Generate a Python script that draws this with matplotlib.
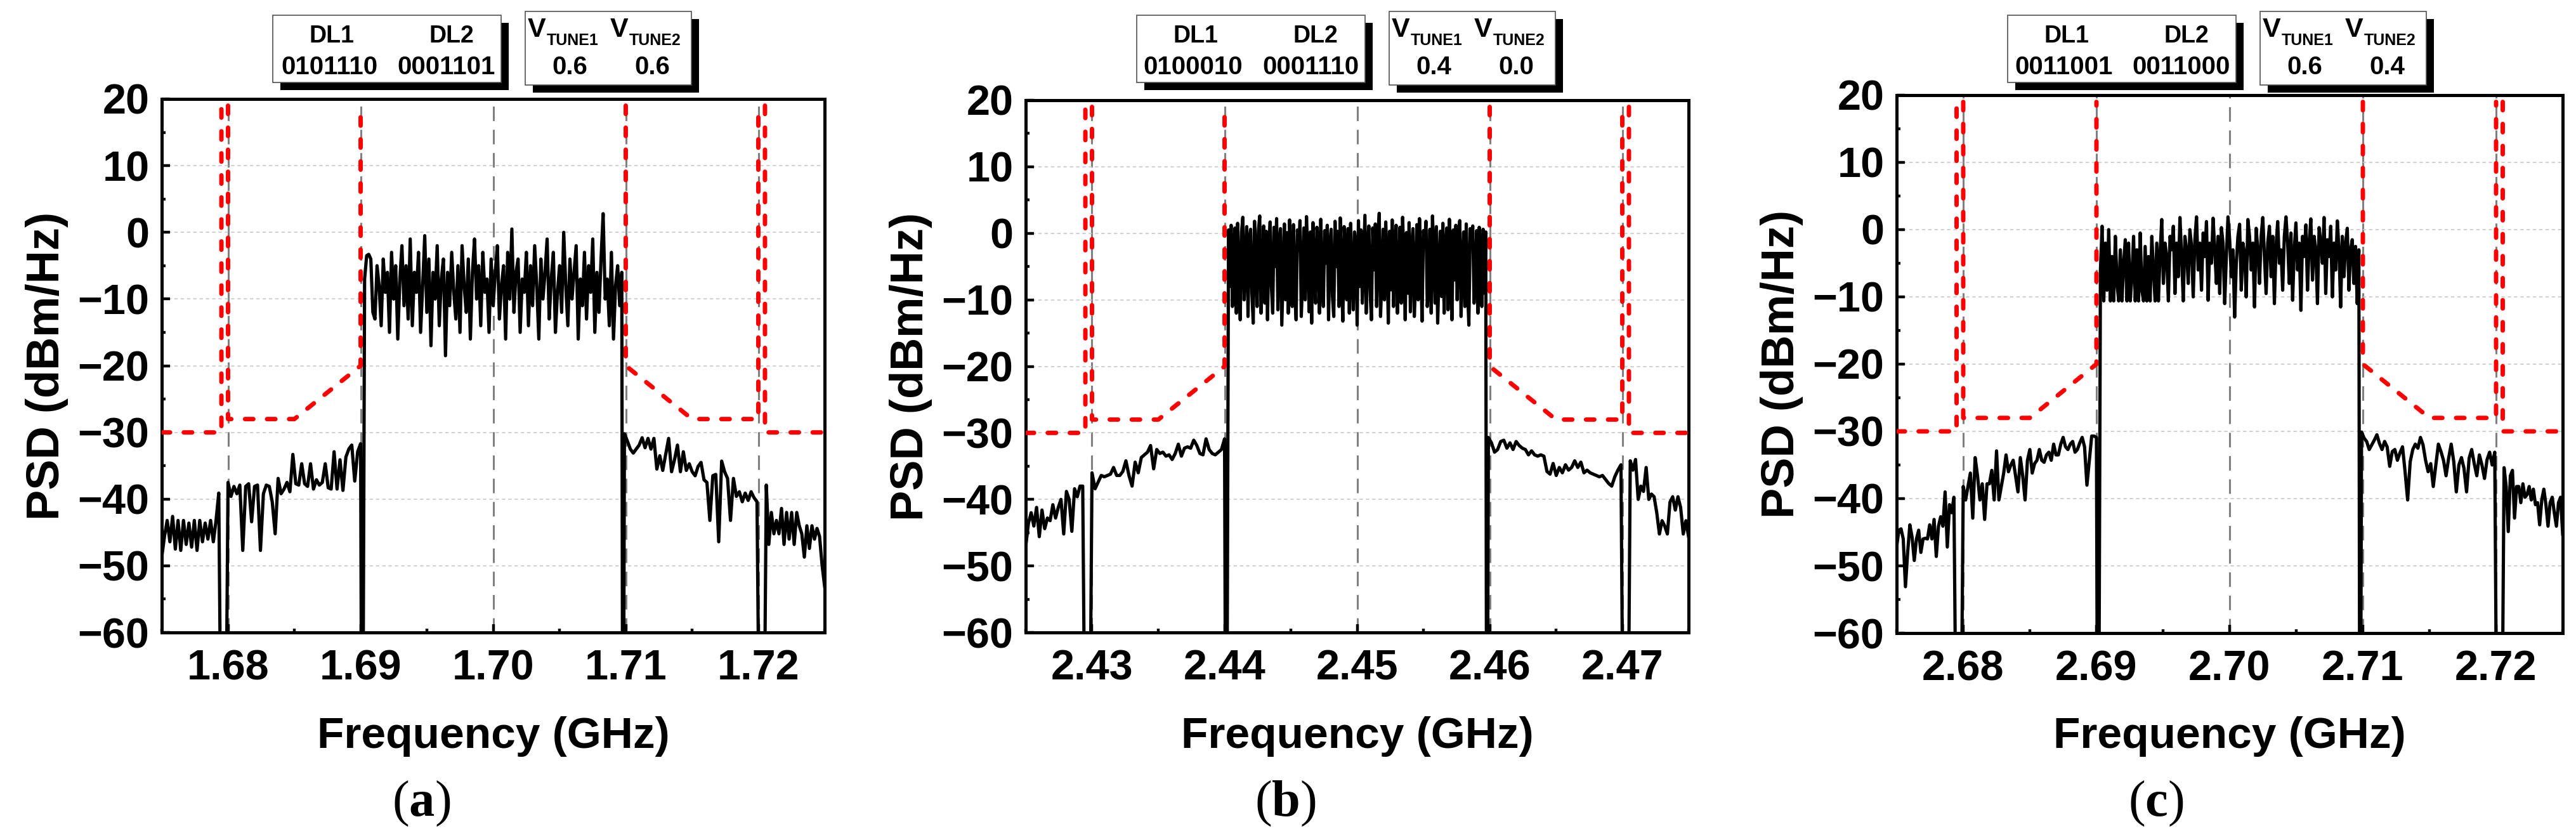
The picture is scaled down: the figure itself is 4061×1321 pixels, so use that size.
import numpy as np
import matplotlib
matplotlib.use('Agg')
import matplotlib.pyplot as plt
from matplotlib.patches import Rectangle
from matplotlib.ticker import MultipleLocator, FormatStrFormatter

W, H = 4061, 1321

# channel centres (GHz) and panel settings
centers = [1.70, 2.45, 2.70]
panel_tags = ['a', 'b', 'c']
dl1_codes = ['0101110', '0100010', '0011001']
dl2_codes = ['0001101', '0001110', '0011000']
vtune1_vals = ['0.6', '0.4', '0.6']
vtune2_vals = ['0.6', '0.0', '0.4']

# spectrum emission mask: offset from centre (GHz) / level (dBm/Hz)
mask_offset = [-0.025, -0.0205, -0.0205, np.nan, -0.020, -0.020, -0.015, -0.010, -0.010, np.nan,
               0.010, 0.010, 0.015, 0.020, 0.020, np.nan, 0.0205, 0.0205, 0.025]
mask_level = [-30, -30, 19, np.nan, 19, -28, -28, -20, 19, np.nan,
              19, -20, -28, -28, 19, np.nan, 19, -30, -30]

# measured trace pieces (offset spans from centre) and the notches between them
seg_span = [(-0.0250, -0.0207), (-0.0200, -0.0100), (-0.0097, 0.0097),
            (0.0099, 0.0199), (0.0206, 0.0250)]
gap_offset = [(-0.0206, -0.0201), (-0.00995, -0.0098), (0.00975, 0.00985), (0.0200, 0.0205)]
floor_level = -62

# ---- panel (a) ----
a_left_outer = [-48.7, -45.6, -43.2, -46.4, -42.6, -47.5, -43.2, -47.7, -43.2, -46.8, -43.6,
                -47.2, -43.2, -47.7, -43.2, -46.4, -43.6, -46.0, -43.2, -46.4, -43.2, -39.1]
a_left_adj = [-37.5, -39.6, -38.1, -39.2, -37.9, -47.7, -38.1, -37.7, -43.4, -38.1, -37.9, -47.7,
              -39.2, -37.9, -38.1, -40.4, -45.2, -36.9, -39.2, -38.5, -37.5, -38.9, -33.3, -37.7,
              -37.9, -34.7, -37.7, -38.1, -34.7, -38.5, -37.1, -37.9, -37.5, -34.7, -38.3, -38.5,
              -32.9, -38.5, -34.1, -38.7, -33.7, -32.5, -31.9, -37.3, -32.9, -31.7]
a_inband = [-7, -3.5, -3.3, -4, -12, -13, -5, -8, -14, -4, -9, -6, -15, -3, -10, -5, -16, -7, -2,
            -11, -5, -13, -1, -14, -6, -9, -3, -15, -8, -0.5, -12, -4, -17, -6, -10, -2, -14, -7,
            -4, -18.5, -6, -11, -3, -9, -13, -5, -15, -2, -8, -12, -4, -16, -6, -1, -10, -5, -14,
            -3, -9, -7, -15, -4, -11, -6, -2, -13, -8, -5, -16, -3, -10, 0.5, -12, -6, -4, -15,
            -7, -9, -3, -14, -5, -11, -2, -8, -16, -4, -10, -6, -1, -13, -7, -3, -15, -9, -5, -12,
            0, -8, -14, -4, -10, -6, -2, -16, -7, -11, -3, -13, -5, -9, -1, -15, -6, -12, -4, 2.8,
            -10, -7, -14, -3, -16, -8, -5, -11, -6]
a_right_adj = [-30.2, -31.3, -32.5, -33.1, -32.5, -31.9, -30.8, -32.3, -30.9, -32.5, -30.9, -35.5,
               -33.5, -35.7, -33.3, -30.9, -35.9, -34.1, -31.9, -35.9, -32.9, -35.7, -34.7, -35.9,
               -36.5, -35.1, -34.5, -37.1, -37.5, -43.2, -36.5, -36.3, -46.4, -34.3, -35.9, -36.9,
               -43.2, -36.9, -39.6, -38.9, -40.4, -39.1, -40.2, -38.9, -39.8, -40.4]
a_right_outer = [-37.9, -46.8, -42.0, -45.2, -43.2, -45.2, -41.4, -46.8, -42.0, -46.0, -42.0, -46.8,
                 -42.0, -44.0, -45.2, -48.7, -44.0, -47.4, -44.0, -46.0, -44.4, -45.6, -49.9, -53.1]

# ---- panel (b) ----
b_left_outer = [-47.1, -43.6, -42.0, -44.0, -41.2, -45.6, -41.6, -44.4, -42.8, -43.2, -40.8,
                -42.8, -41.2, -40.0, -45.2, -38.8, -40.0, -44.8, -38.4, -39.6, -38.0, -38.0]
b_left_adj = [-36.0, -38.4, -37.4, -36.4, -36.6, -36.4, -36.2, -35.2, -36.4, -36.4, -35.8, -34.2,
              -36.4, -38.0, -34.4, -36.0, -33.7, -33.3, -32.9, -31.9, -35.4, -32.5, -33.1, -32.9,
              -33.5, -33.3, -34.0, -33.1, -31.7, -33.5, -32.3, -32.1, -32.3, -31.1, -31.9, -33.1,
              -33.3, -30.9, -32.5, -33.1, -33.3, -32.9, -32.5, -30.9]
b_inband = [0.5, -8, 1.2, -11, -2, 0.8, -12, 1.5, -6, -13, 0.2, 2.4, -10, -4, 1.0, -12.5, -1, 0.6,
            -9, -13.5, 1.8, -3, -11, 0.4, 2.6, -12, -7, 1.1, -10.5, 0.3, -13, -2, 1.7, -8, -12,
            0.9, -5, 2.2, -11.5, -1.5, 0.7, -13.8, -6, 1.4, -10, 0.1, -12, 2.0, -4, -11, 1.3, -9,
            -13, 0.5, -2.5, 1.9, -12.5, -7, 0.8, -10, 2.5, -3, -11.8, 0.2, -13.5, 1.6, -6, -10.5,
            0.9, -1, -12, 2.1, -8, -11, 0.4, -4.5, 1.2, -13, -2, 0.6, -9.5, -12.5, 1.8, -5, 0.3,
            -11, 2.3, -7, -13.2, 1.0, -3, -10, 0.7, -12, 1.5, -6.5, -11.5, 0.2, -1.5, -13.8, 1.9,
            -8, 0.5, -10.5, -4, 2.7, -12, -2, 1.1, -9, -13, 0.8, -5.5, 1.4, -11, -0.5, 3.0, -12.5,
            -7, 0.6, -10, 1.7, -3.5, -13.5, 0.3, -8.5, 2.0, -11, -1, 1.2, -12, -6, 0.9, -10.5, 2.4,
            -4, -13, 0.1, -9, 1.6, -11.8, -2.5, 0.7, -12.5, -7.5, 1.3, -10, 2.2, -5, -13.2, 0.4,
            -1.5, 1.8, -11, -8, 0.6, -12, 2.6, -3, -10.5, 1.0, -13.5, -6, 0.3, -9.5, 1.5, -12, -2,
            0.8, -11.5, 2.1, -4.5, -13, 0.5, -7, 1.2, -10, -0.5, 1.9, -12.5, -5, 0.2, -11, 1.4,
            -8.5, -13.8, 0.7, -2, 1.1, -10.5, -6, 0.4, -12, 0.9, -3, -11, 0.6, -9, 0.2]
b_right_adj = [-30.7, -31.5, -32.9, -32.5, -31.3, -31.1, -32.3, -31.5, -32.5, -31.3, -31.9, -32.3,
               -32.5, -33.3, -32.7, -33.3, -33.5, -33.3, -33.5, -35.8, -36.2, -34.6, -36.4, -35.2,
               -36.0, -34.8, -35.6, -35.2, -34.2, -35.2, -34.4, -36.0, -35.6, -36.0, -36.2, -36.4,
               -36.6, -36.4, -37.0, -37.6, -38.0, -36.6, -35.6, -34.8]
b_right_outer = [-34.2, -35.6, -34.0, -40.0, -38.0, -38.8, -35.2, -40.0, -39.2, -39.6, -42.0,
                 -45.2, -43.2, -44.0, -45.2, -40.4, -39.6, -41.6, -39.6, -41.2, -45.2, -43.2, -45.6]

# ---- panel (c) ----
c_left_outer = [-47.2, -44.7, -44.5, -46.0, -53.1, -48.0, -43.9, -45.7, -49.2, -46.0, -44.7,
                -48.0, -46.0, -45.9, -46.0, -43.9, -46.0, -43.1, -48.6, -44.1, -42.7, -44.1,
                -39.0, -47.2, -40.9, -42.1, -39.8]
c_left_adj = [-38.2, -40.2, -38.2, -36.2, -42.9, -33.9, -36.6, -40.2, -37.8, -43.1, -37.8, -37.8,
              -35.8, -40.2, -32.9, -40.2, -38.2, -36.2, -33.5, -36.0, -35.0, -34.3, -36.6, -39.0,
              -33.9, -36.6, -40.2, -34.3, -32.7, -36.2, -34.8, -34.3, -32.7, -34.3, -34.6, -33.5,
              -33.1, -34.3, -31.9, -33.5, -33.5, -31.9, -30.9, -32.3, -32.7, -31.9, -31.5, -33.1,
              -32.7, -31.7, -30.9, -32.3, -38.0, -34.3, -30.7, -30.7, -30.9]
c_inband = [-6, 0.5, -10.6, -2, -9, 0, -10.6, -4, -10.6, -1, -8, -10.6, -3, -10.6, -5, -1.5, -10.6,
            -2, -10.6, -7, -1, -10.6, -3, -10.6, -0.5, -9, -10.6, -2.5, -10.6, -4, -10.6, -1, -6,
            -10.6, -2, -10.6, -3.5, 1.5, -8, -2, -4, -10.6, -1, -3, 0.5, -9.5, -2, -7, 1.8, -4,
            -10.6, -1, -3, -8, 0, -2.5, -10, -1.5, 1.9, -6, -2, -9, -0.5, -4, 1.2, -10.5, -2, -5,
            1.7, -3, -8, -1, -9.5, 0.3, -2, -11, -4, 1.9, -1.5, -7, -3, -13, -5, -1, 0.8, -9, -2,
            -3.5, -10, 1.5, -1, -6, -2, -11.5, 0.2, -3, -8, -1, 1.8, -4, -9.5, -2, 0.5, -7, -1,
            -11, -2.5, 1.2, -5, -3, -9, -1, 1.9, -2, -8, -0.5, -10.5, -3, 1.0, -6, -2, -12, -1, -4,
            0.7, -9, -2, 1.6, -7.5, -1, -3, -11, 0.3, -2, -5, 1.8, -9.5, -1.5, -4, 0.5, -10, -2,
            -6, 1.3, -3, -11.5, -1, -7, -2, 0.2, -9, -3, -1.5, -8, -2.5, -11, -3]
c_right_adj = [-30.1, -31.0, -31.5, -32.7, -32.0, -31.3, -30.5, -31.8, -32.7, -31.5, -32.3, -35.2,
               -33.0, -32.7, -34.3, -33.2, -32.3, -36.0, -40.2, -34.5, -32.7, -31.9, -32.5, -30.9,
               -32.0, -34.3, -36.0, -34.8, -38.2, -35.0, -31.9, -33.0, -34.3, -36.6, -34.0, -31.9,
               -34.5, -39.0, -35.0, -33.9, -35.5, -39.0, -34.0, -32.7, -34.8, -36.6, -33.5, -35.0,
               -37.0, -34.2, -33.1, -35.0, -33.1]
c_right_outer = [-35.4, -38.2, -44.9, -36.6, -35.8, -42.9, -38.2, -38.2, -40.6, -37.8, -39.8,
                 -39.4, -38.2, -40.2, -38.6, -40.9, -40.6, -43.9, -40.2, -38.6, -40.9, -44.1,
                 -40.6, -39.8, -42.1, -44.1, -40.6, -39.8, -45.3]

traces = [
    [a_left_outer, a_left_adj, a_inband, a_right_adj, a_right_outer],
    [b_left_outer, b_left_adj, b_inband, b_right_adj, b_right_outer],
    [c_left_outer, c_left_adj, c_inband, c_right_adj, c_right_outer],
]

# axes boxes in pixels: left, top, right, bottom
panel_px = [(255, 156, 1300, 997), (1617, 158, 2662, 997), (2990, 150, 4040, 998)]


def build_trace(fc, segments):
    xs, ys = [], []
    for i, vals in enumerate(segments):
        f0, f1 = seg_span[i]
        xs.extend(fc + np.linspace(f0, f1, len(vals)))
        ys.extend(vals)
        if i < len(gap_offset):
            g0, g1 = gap_offset[i]
            xs.extend([fc + g0, fc + g1])
            ys.extend([floor_level, floor_level])
    return np.array(xs), np.array(ys)


def draw_panel(ax, fc, segments, tag, w_px, h_px, bottom):
    ax.set_axisbelow(True)
    ax.grid(axis='y', which='major', color='#c4c4c4', lw=1.1, ls=(0, (3.5, 3)))
    ax.grid(axis='x', which='major', color='#808080', lw=2.2, ls=(0, (7.5, 4.5)))

    fx, fy = build_trace(fc, segments)
    ax.plot(fx, fy, color='black', lw=3.7, zorder=3)
    ax.plot(fc + np.array(mask_offset), mask_level, color='#ff0000', lw=5.0,
            ls=(0, (1.9, 3.1)), dash_capstyle='round', zorder=4)

    ax.set_xlim(fc - 0.025, fc + 0.025)
    ax.set_ylim(-60, 20)
    ax.xaxis.set_major_locator(MultipleLocator(0.01))
    ax.xaxis.set_minor_locator(MultipleLocator(0.005))
    ax.xaxis.set_major_formatter(FormatStrFormatter('%.2f'))
    ax.yaxis.set_major_locator(MultipleLocator(10))
    ax.yaxis.set_minor_locator(MultipleLocator(5))

    for s in ax.spines.values():
        s.set_linewidth(3.6)
    ax.tick_params(which='both', direction='in', top=False, right=False, width=3.2)
    ax.tick_params(which='major', length=9.5)
    ax.tick_params(which='minor', length=4)
    ax.tick_params(axis='x', labelsize=48, pad=19)
    ax.tick_params(axis='y', labelsize=48, pad=14)

    ax.set_xlabel('Frequency (GHz)', fontsize=50, fontweight='bold', va='baseline')
    ax.xaxis.set_label_coords(0.5, (bottom - 1179) / h_px)
    ax.set_ylabel('PSD (dBm/Hz)', fontsize=52, fontweight='bold', va='baseline')
    ax.yaxis.set_label_coords(-162 / w_px, 0.5)

    ax.text(409 / w_px, (bottom - 1286) / h_px, '(' + r'$\mathbf{' + tag + '}$' + ')',
            transform=ax.transAxes, ha='center', va='baseline', fontsize=58,
            family='Liberation Serif', fontweight='normal')


def draw_boxes(ov, left, i):
    # DL box and VTUNE box with drop shadows
    b1, b2 = 175, 573
    for bx, by, bw, bh in [(b1, 24, 360, 106), (b2, 18, 262, 116)]:
        ov.add_patch(Rectangle((left + bx + 12, by + 12), bw, bh, facecolor='black',
                               edgecolor='none', zorder=1))
        ov.add_patch(Rectangle((left + bx, by), bw, bh, facecolor='white',
                               edgecolor='#505050', lw=1.2, zorder=2))
    ov.text(left + b1 + 93, 67, 'DL1', ha='center', va='baseline', fontsize=27, zorder=3)
    ov.text(left + b1 + 282, 67, 'DL2', ha='center', va='baseline', fontsize=27, zorder=3)
    ov.text(left + b1 + 89, 117, dl1_codes[i], ha='center', va='baseline', fontsize=29, zorder=3)
    ov.text(left + b1 + 274, 117, dl2_codes[i], ha='center', va='baseline', fontsize=29, zorder=3)
    for vx, sub, val, cx in [(4, 'TUNE1', vtune1_vals[i], 70),
                             (134, 'TUNE2', vtune2_vals[i], 200)]:
        ov.text(left + b2 + vx, 58, 'V', ha='left', va='baseline', fontsize=31, zorder=3)
        ov.text(left + b2 + vx + 30, 71, sub, ha='left', va='baseline', fontsize=18, zorder=3)
        ov.text(left + b2 + cx, 117, val, ha='center', va='baseline', fontsize=29, zorder=3)


def main():
    plt.rcParams['font.family'] = ['Liberation Sans', 'DejaVu Sans']
    plt.rcParams['font.weight'] = 'bold'
    plt.rcParams['mathtext.fontset'] = 'custom'
    plt.rcParams['mathtext.rm'] = 'Liberation Serif'
    plt.rcParams['mathtext.bf'] = 'Liberation Serif:bold'

    fig = plt.figure(figsize=(W / 100, H / 100), dpi=100)
    fig.patch.set_facecolor('white')

    for i, (l, t, r, b) in enumerate(panel_px):
        w_px, h_px = r - l, b - t
        ax = fig.add_axes([l / W, 1 - b / H, w_px / W, h_px / H])
        draw_panel(ax, centers[i], traces[i], panel_tags[i], w_px, h_px, b)

    ov = fig.add_axes([0, 0, 1, 1], zorder=10)
    ov.set_xlim(0, W)
    ov.set_ylim(H, 0)
    ov.axis('off')
    for i, (l, t, r, b) in enumerate(panel_px):
        draw_boxes(ov, l, i)

    fig.savefig('out.png', dpi=100)


if __name__ == '__main__':
    main()
